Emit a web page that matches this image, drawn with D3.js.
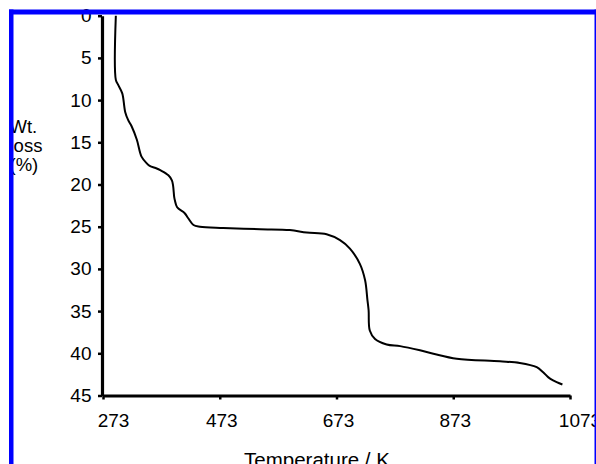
<!DOCTYPE html>
<html>
<head>
<meta charset="utf-8">
<script src="https://cdn.jsdelivr.net/npm/d3@7"></script>
<style>
  html, body { margin: 0; padding: 0; background: #fff; }
  svg { display: block; }
  text { font-family: "Liberation Sans", Arial, sans-serif; fill: #000; }
</style>
</head>
<body>
<script>
// ---- data ----
const xTickValues = [273, 473, 673, 873, 1073];
const yTickValues = [0, 5, 10, 15, 20, 25, 30, 35, 40, 45];
const temperature = [295, 295, 299, 306, 311, 316, 322, 331, 339, 348, 353, 365, 371, 385, 391, 393, 395, 396, 400, 413, 419, 428, 439, 479, 542, 593, 622, 656, 679, 696, 713, 722, 726, 728, 730, 739, 759, 782, 816, 839, 879, 953, 987, 1016, 1027, 1036, 1044, 1060];
const wtLoss = [0, 7.6, 8.2, 9.2, 11.4, 12.35, 13.1, 14.7, 16.7, 17.5, 17.8, 18.1, 18.3, 18.9, 19.5, 20.1, 21.5, 21.85, 22.7, 23.4, 24.0, 24.8, 25.0, 25.15, 25.3, 25.4, 25.7, 25.9, 26.6, 27.6, 29.4, 31.35, 33.7, 34.9, 37.3, 38.3, 38.95, 39.15, 39.65, 40.05, 40.65, 40.95, 41.15, 41.65, 42.25, 42.85, 43.2, 43.7];
const xTitle = "Temperature / K";
const yTitleLines = ["Wt.", "loss", "(%)"];

// ---- chart ----
const W = 596, H = 464;
const svg = d3.select("body").append("svg").attr("width", W).attr("height", H);
svg.append("rect").attr("width", W).attr("height", H).attr("fill", "#fff");

const x = d3.scaleLinear().domain([273, 1073]).range([103, 570]);
const y = d3.scaleLinear().domain([0, 45]).range([15.7, 395.5]);

// y axis
const gy = svg.append("g").attr("transform", "translate(102,0)")
  .call(d3.axisLeft(y).tickValues(yTickValues).tickSize(4).tickSizeOuter(0).tickPadding(6.5));
gy.select(".domain").attr("stroke", "#000").attr("stroke-width", 3.2);
gy.selectAll(".tick line").attr("stroke", "#000").attr("stroke-width", 2.5);
gy.selectAll(".tick text").attr("font-size", 19).attr("font-family", '"Liberation Sans", Arial, sans-serif').attr("fill", "#000");

// x axis
const gx = svg.append("g").attr("transform", "translate(0,395.5)")
  .call(d3.axisBottom(x).tickValues(xTickValues).tickSize(4).tickSizeOuter(0).tickFormat(d3.format("d")));
gx.select(".domain").attr("stroke", "#000").attr("stroke-width", 3.2);
gx.selectAll(".tick line").attr("stroke", "#000").attr("stroke-width", 2.5);
gx.selectAll(".tick text")
  .attr("font-size", 19).attr("font-family", '"Liberation Sans", Arial, sans-serif').attr("fill", "#000")
  .attr("dy", null).attr("y", 31.5)
  .attr("dx", (d, i) => i === 0 ? 10 : (i === xTickValues.length - 1 ? 9.5 : 1.5));

// line
const pts = temperature.map((t, i) => [t, wtLoss[i]]);
svg.append("path")
  .datum(pts)
  .attr("fill", "none")
  .attr("stroke", "#000")
  .attr("stroke-width", 2)
  .attr("stroke-linejoin", "round")
  .attr("d", d3.line().x(d => x(d[0])).y(d => y(d[1])).curve(d3.curveCatmullRom.alpha(0.5)));

// titles
svg.append("text").attr("x", 317).attr("y", 466.5).attr("text-anchor", "middle")
  .attr("font-size", 20.5).text(xTitle);
const yt = svg.append("text").attr("font-size", 18.5);
yTitleLines.forEach((s, i) => {
  yt.append("tspan").attr("x", 9.5).attr("y", 133 + i * 19).text(s);
});

// blue frame
const blue = "#0000ff";
svg.append("rect").attr("x", 9).attr("y", 9.5).attr("width", W - 9).attr("height", 5).attr("fill", blue);
svg.append("rect").attr("x", 9).attr("y", 9.5).attr("width", 4.5).attr("height", H - 9.5).attr("fill", blue);
svg.append("rect").attr("x", 594.5).attr("y", 9.5).attr("width", 1.5).attr("height", H - 9.5).attr("fill", blue);
</script>
</body>
</html>
